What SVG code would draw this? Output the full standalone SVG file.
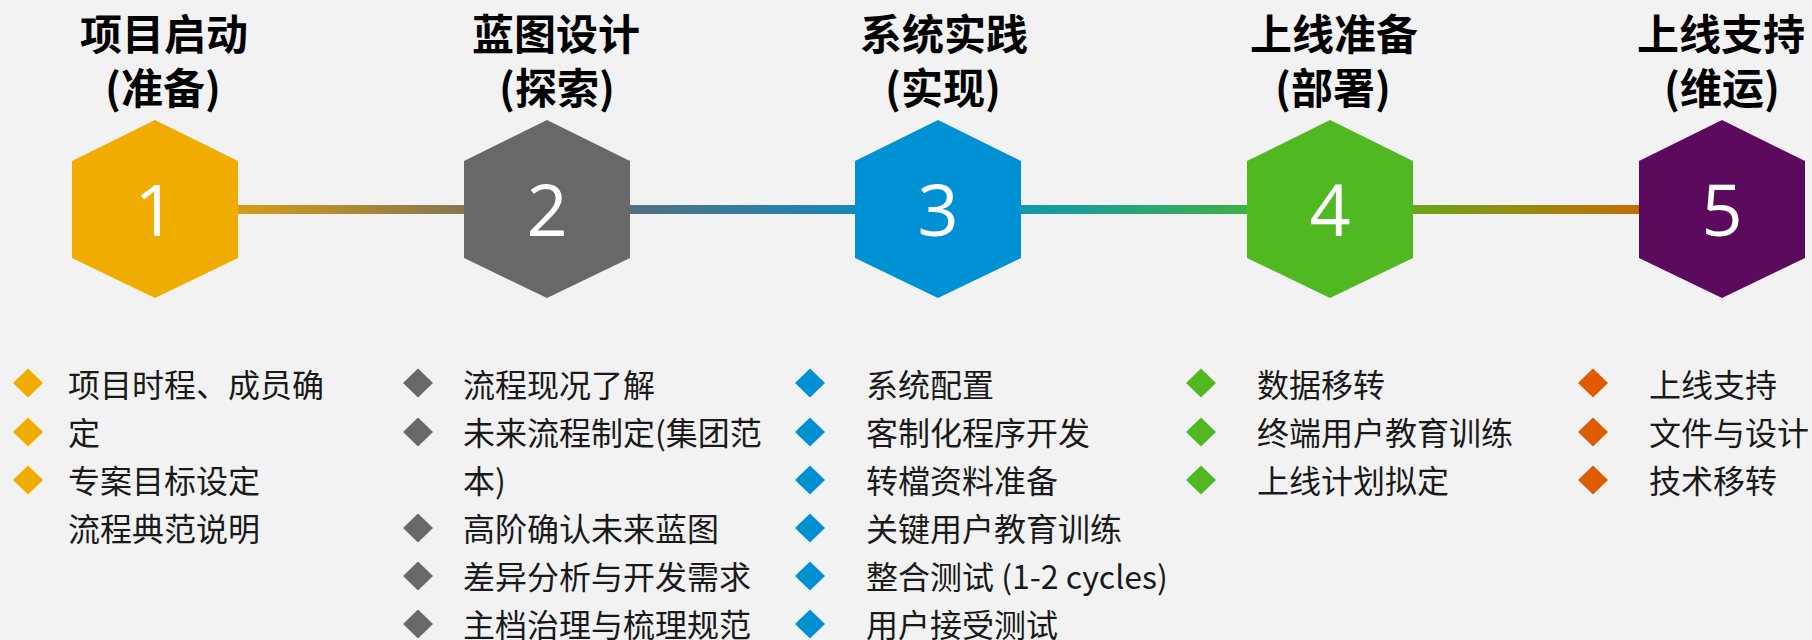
<svg xmlns="http://www.w3.org/2000/svg" width="1812" height="640" viewBox="0 0 1812 640">
  <style>
    .title { font-family: "Noto Sans CJK SC", "Liberation Sans", sans-serif; font-weight: 700; font-size: 42px; fill: #000; text-anchor: middle; }
    .num { font-family: "Open Sans", "Noto Sans", sans-serif; font-weight: 400; font-size: 72px; fill: #fff; text-anchor: middle; }
    .item { font-family: "Noto Sans CJK SC", "Liberation Sans", sans-serif; font-size: 32px; fill: #1a1a1a; }
    .c1 { fill: #F0AC00; }
    .c2 { fill: #686868; }
    .c3 { fill: #0090D4; }
    .c4 { fill: #50B820; }
    .c5 { fill: #5C0A5E; }
    .b5 { fill: #E05A00; }
  </style>
  <defs>
    <linearGradient id="lineGrad" gradientUnits="userSpaceOnUse" x1="155" y1="0" x2="1722" y2="0">
      <stop offset="0" stop-color="#F0AC00"/>
      <stop offset="0.25" stop-color="#686868"/>
      <stop offset="0.5" stop-color="#0090D4"/>
      <stop offset="0.75" stop-color="#50B820"/>
      <stop offset="1" stop-color="#E05A00"/>
    </linearGradient>
    <polygon id="hex" points="0,-89 83,-48 83,49 0,89 -83,49 -83,-48"/>
    <polygon id="dia" points="0,-14.5 15,0 0,14.5 -15,0"/>
  </defs>
  <rect width="1812" height="640" fill="#F2F2F2"/>

  <g id="connectors">
    <rect x="155" y="205" width="1567" height="9" fill="url(#lineGrad)"/>
  </g>

  <g id="stage1">
    <text class="title"><tspan x="164" y="50">项目启动</tspan><tspan x="163" y="104">(准备)</tspan></text>
    <use href="#hex" x="155" y="209" class="c1"/>
    <text class="num" x="155" y="236">1</text>
    <use href="#dia" x="28" y="383" class="c1"/>
    <use href="#dia" x="28" y="432" class="c1"/>
    <use href="#dia" x="28" y="480" class="c1"/>
    <text class="item" x="68" y="397">项目时程、成员确</text>
    <text class="item" x="68" y="445">定</text>
    <text class="item" x="68" y="493">专案目标设定</text>
    <text class="item" x="68" y="541">流程典范说明</text>
  </g>

  <g id="stage2">
    <text class="title"><tspan x="556" y="50">蓝图设计</tspan><tspan x="557" y="104">(探索)</tspan></text>
    <use href="#hex" x="547" y="209" class="c2"/>
    <text class="num" x="547" y="236">2</text>
    <use href="#dia" x="418" y="383" class="c2"/>
    <use href="#dia" x="418" y="432" class="c2"/>
    <use href="#dia" x="418" y="528" class="c2"/>
    <use href="#dia" x="418" y="576" class="c2"/>
    <use href="#dia" x="418" y="624" class="c2"/>
    <text class="item" x="463" y="397">流程现况了解</text>
    <text class="item" x="463" y="445">未来流程制定(集团范</text>
    <text class="item" x="463" y="493">本)</text>
    <text class="item" x="463" y="541">高阶确认未来蓝图</text>
    <text class="item" x="463" y="589">差异分析与开发需求</text>
    <text class="item" x="463" y="637">主档治理与梳理规范</text>
  </g>

  <g id="stage3">
    <text class="title"><tspan x="944" y="50">系统实践</tspan><tspan x="943" y="104">(实现)</tspan></text>
    <use href="#hex" x="938" y="209" class="c3"/>
    <text class="num" x="938" y="236">3</text>
    <use href="#dia" x="810" y="383" class="c3"/>
    <use href="#dia" x="810" y="432" class="c3"/>
    <use href="#dia" x="810" y="480" class="c3"/>
    <use href="#dia" x="810" y="528" class="c3"/>
    <use href="#dia" x="810" y="576" class="c3"/>
    <use href="#dia" x="810" y="624" class="c3"/>
    <text class="item" x="866" y="397">系统配置</text>
    <text class="item" x="866" y="445">客制化程序开发</text>
    <text class="item" x="866" y="493">转檔资料准备</text>
    <text class="item" x="866" y="541">关键用户教育训练</text>
    <text class="item" x="866" y="589">整合测试 (1-2 cycles)</text>
    <text class="item" x="866" y="637">用户接受测试</text>
  </g>

  <g id="stage4">
    <text class="title"><tspan x="1334" y="50">上线准备</tspan><tspan x="1333" y="104">(部署)</tspan></text>
    <use href="#hex" x="1330" y="209" class="c4"/>
    <text class="num" x="1330" y="236">4</text>
    <use href="#dia" x="1201" y="383" class="c4"/>
    <use href="#dia" x="1201" y="432" class="c4"/>
    <use href="#dia" x="1201" y="480" class="c4"/>
    <text class="item" x="1257" y="397">数据移转</text>
    <text class="item" x="1257" y="445">终端用户教育训练</text>
    <text class="item" x="1257" y="493">上线计划拟定</text>
  </g>

  <g id="stage5">
    <text class="title"><tspan x="1721" y="50">上线支持</tspan><tspan x="1722" y="104">(维运)</tspan></text>
    <use href="#hex" x="1722" y="209" class="c5"/>
    <text class="num" x="1722" y="236">5</text>
    <use href="#dia" x="1593" y="383" class="b5"/>
    <use href="#dia" x="1593" y="432" class="b5"/>
    <use href="#dia" x="1593" y="480" class="b5"/>
    <text class="item" x="1649" y="397">上线支持</text>
    <text class="item" x="1649" y="445">文件与设计</text>
    <text class="item" x="1649" y="493">技术移转</text>
  </g>
</svg>
